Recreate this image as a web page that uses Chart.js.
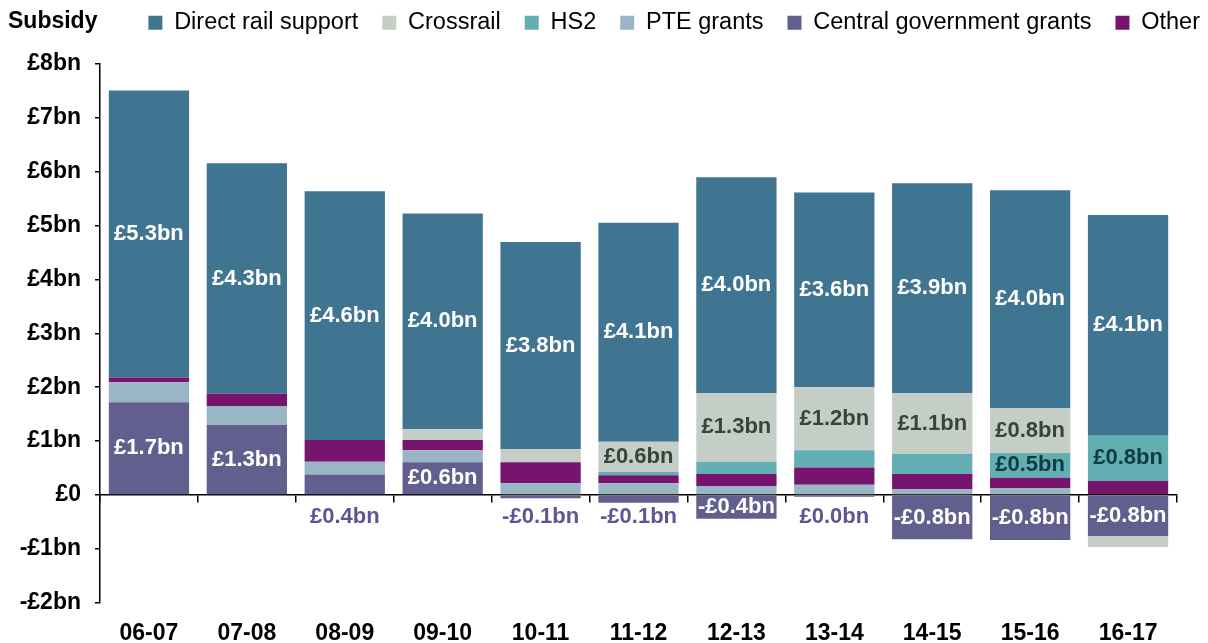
<!DOCTYPE html>
<html>
<head>
<meta charset="utf-8">
<script src="https://cdn.jsdelivr.net/npm/chart.js@4/dist/chart.umd.min.js"></script>
<style>
  html, body { margin: 0; padding: 0; background: #fff; }
  #wrap { width: 1208px; height: 643px; }
</style>
</head>
<body>
<div id="wrap"><canvas id="subsidy-chart"></canvas></div>
<script>
const years = ['06-07','07-08','08-09','09-10','10-11','11-12','12-13','13-14','14-15','15-16','16-17'];

// values in £bn
const directRail = [5.32, 4.27, 4.61, 4.00, 3.84, 4.06, 4.00, 3.61, 3.89, 4.04, 4.09];
const crossrail  = [0, 0, 0, 0.20, 0.24, 0.56, 1.27, 1.17, 1.13, 0.83, -0.20];
const hs2        = [0, 0, 0, 0, 0, 0.06, 0.23, 0.32, 0.37, 0.46, 0.84];
const pteGrants  = [0.37, 0.35, 0.24, 0.22, 0.22, 0.22, 0.17, 0.19, 0.11, 0.13, 0];
const centralGov = [1.72, 1.30, 0.38, 0.61, -0.06, -0.14, -0.44, -0.03, -0.82, -0.83, -0.76];
const other      = [0.09, 0.23, 0.40, 0.19, 0.39, 0.15, 0.22, 0.32, 0.28, 0.19, 0.26];

const yTicks = [-2, -1, 0, 1, 2, 3, 4, 5, 6, 7, 8];
const legendOrder = ['Direct rail support', 'Crossrail', 'HS2', 'PTE grants', 'Central government grants', 'Other'];

const FONT = '"Liberation Sans", Arial, sans-serif';

function fmtBn(v) {
  let r = Math.round(v * 10) / 10;
  return (r < 0 ? '-' : '') + '£' + Math.abs(r).toFixed(1) + 'bn';
}

//draws the £ labels on the segments and the "Subsidy" heading
const segmentLabels = {
  id: 'segmentLabels',
  afterDatasetsDraw(chart) {
    const ctx = chart.ctx;
    const zeroY = chart.scales.y.getPixelForValue(0);
    ctx.save();
    ctx.font = 'bold 22px ' + FONT;
    ctx.textAlign = 'center';
    ctx.textBaseline = 'middle';
    chart.data.datasets.forEach(function(ds, i) {
      const meta = chart.getDatasetMeta(i);
      meta.data.forEach(function(bar, j) {
        const v = ds.data[j];
        const midY = (bar.y + bar.base) / 2;
        if (ds.label == 'Direct rail support') {
          ctx.fillStyle = '#ffffff';
          ctx.fillText(fmtBn(v), bar.x, midY);
        } else if (ds.label == 'Crossrail' && v >= 0.5) {
          ctx.fillStyle = '#37433b';
          ctx.fillText(fmtBn(v), bar.x, midY);
        } else if (ds.label == 'HS2' && v >= 0.45) {
          ctx.fillStyle = '#0d3c44';
          ctx.fillText(fmtBn(v), bar.x, midY);
        } else if (ds.label == 'Central government grants') {
          if (Math.abs(v) >= 0.4) {
            ctx.fillStyle = '#ffffff';
            ctx.fillText(fmtBn(v), bar.x, midY);
          } else {
            ctx.fillStyle = '#5b5794';
            ctx.fillText(fmtBn(v), bar.x, zeroY + 22);
          }
        }
      });
    });
    ctx.restore();
  },
  afterDraw(chart) {
    const ctx = chart.ctx;
    ctx.save();
    ctx.font = 'bold 23px ' + FONT;
    ctx.fillStyle = '#000';
    ctx.textAlign = 'left';
    ctx.textBaseline = 'middle';
    ctx.fillText('Subsidy', 8, 22);
    ctx.restore();
  }
};

function makeSet(label, data, color) {
  return { label: label, data: data, backgroundColor: color, borderWidth: 0, stack: 's' };
}

new Chart(document.getElementById('subsidy-chart'), {
  type: 'bar',
  data: {
    labels: years,
    datasets: [
      makeSet('Central government grants', centralGov, '#625f8f'),
      makeSet('PTE grants', pteGrants, '#9ab5c3'),
      makeSet('Other', other, '#76146e'),
      makeSet('HS2', hs2, '#63aeb3'),
      makeSet('Crossrail', crossrail, '#c4cec6'),
      makeSet('Direct rail support', directRail, '#3f7591')
    ]
  },
  options: {
    responsive: true,
    maintainAspectRatio: false,
    animation: false,
    datasets: { bar: { barPercentage: 0.82, categoryPercentage: 1 } },
    layout: { padding: { left: 0, right: -16, top: -13, bottom: 0 } },
    plugins: {
      tooltip: { enabled: false },
      legend: {
        position: 'top',
        align: 'end',
        labels: {
          boxWidth: 14,
          boxHeight: 14,
          padding: 24,
          color: '#000',
          font: { family: FONT, size: 23.5 },
          sort: function(a, b) {
            return legendOrder.indexOf(a.text) - legendOrder.indexOf(b.text);
          }
        }
      }
    },
    scales: {
      x: {
        stacked: true,
        grid: { display: false, drawTicks: false },
        border: { display: false },
        ticks: { color: '#000', padding: 17, font: { family: FONT, size: 23, weight: 'bold' } },
        afterFit: function(s) { s.height = 40; }
      },
      xTop: {
        type: 'category',
        position: 'top',
        grid: { display: false, drawTicks: false },
        border: { display: false },
        ticks: { display: false },
        afterFit: function(s) { s.height = 19; }
      },
      x2: {
        type: 'category',
        position: { y: 0 },
        offset: true,
        z: 1,
        grid: { offset: true, drawOnChartArea: false, tickLength: 7, color: '#000', lineWidth: 1.5 },
        border: { color: '#000', width: 1.5 },
        ticks: { display: false }
      },
      y: {
        stacked: true,
        min: -2,
        max: 8,
        afterBuildTicks: function(s) { s.ticks = yTicks.map(function(v) { return { value: v }; }); },
        grid: { drawOnChartArea: false, tickLength: 5, color: '#000', lineWidth: 1.5 },
        border: { color: '#000', width: 1.5 },
        ticks: {
          color: '#000',
          padding: 14,
          font: { family: FONT, size: 23, weight: 'bold' },
          callback: function(v) {
            if (v == 0) return '£0';
            return (v < 0 ? '-' : '') + '£' + Math.abs(v) + 'bn';
          }
        },
        afterFit: function(s) { s.width = 100; }
      },
      yRight: {
        position: 'right',
        grid: { display: false },
        border: { display: false },
        ticks: { display: false },
        afterFit: function(s) { s.width = 47; }
      }
    }
  },
  plugins: [segmentLabels]
});
</script>
</body>
</html>
